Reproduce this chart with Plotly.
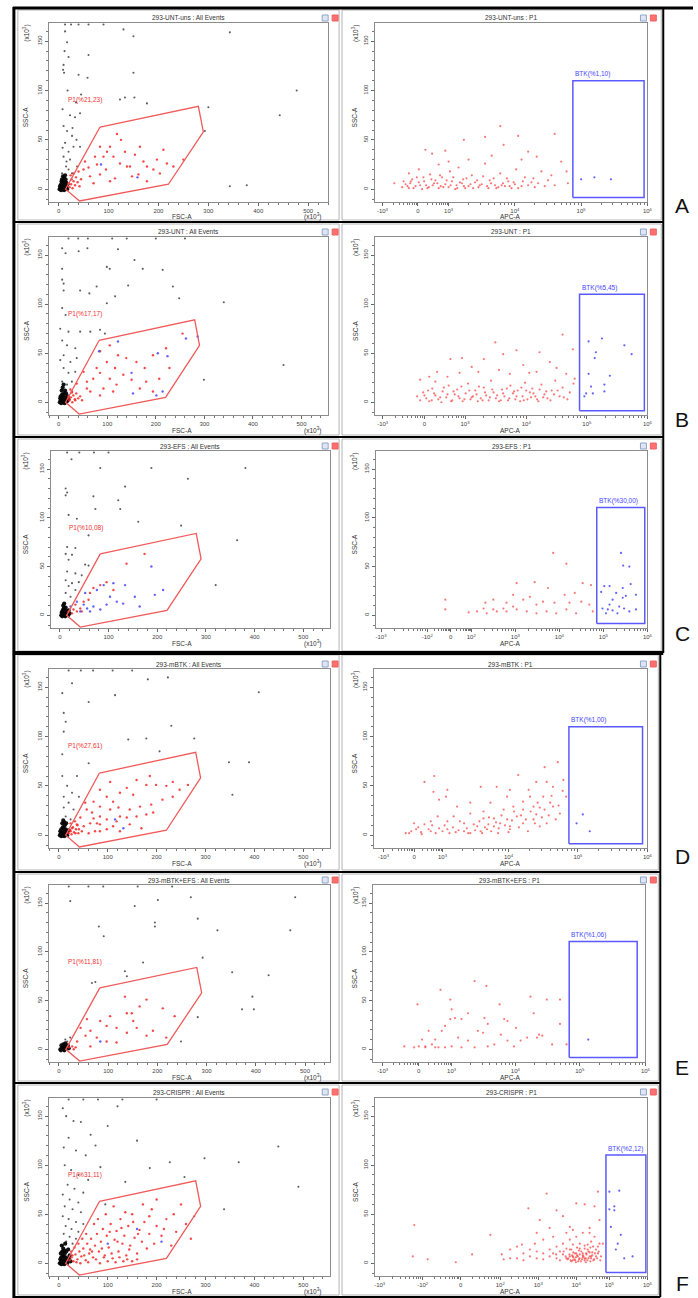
import plotly.graph_objects as go
import math

# ---------------- data ----------------
SAMPLES = ['293-UNT-uns', '293-UNT', '293-EFS', '293-mBTK', '293-mBTK+EFS', '293-CRISPR']
ROW_LETTERS = ['A', 'B', 'C', 'D', 'E', 'F']
P1_PCT = ['P1(%21,23)', 'P1(%17,17)', 'P1(%10,08)', 'P1(%27,61)', 'P1(%11,81)', 'P1(%31,11)']
BTK_PCT = ['BTK(%1,10)', 'BTK(%5,45)', 'BTK(%30,00)', 'BTK(%1,00)', 'BTK(%1,06)', 'BTK(%2,12)']

# P1 polygon gate (FSC-A x10^3, SSC-A x10^3)
P1_GATE_X = [83, 280, 290, 220, 42, 14]
P1_GATE_Y = [63, 84, 58, 5, -12, 0]

# BTK rectangle gates (APC-A logicle display units, SSC-A)
BTK_GATES = [(4.875, 5.95, -8.5, 110), (4.88, 5.95, -8.7, 110), (4.85, 5.94, -8.5, 110.5),
             (4.87, 5.93, -8.7, 110), (4.84, 5.875, -8.5, 110.5), (4.91, 5.96, -9.5, 110.5)]

# APC-A axis ticks (logicle display units) per panel
T6 = ['-10<sup>3</sup>', '0', '10<sup>3</sup>', '10<sup>4</sup>', '10<sup>5</sup>', '10<sup>6</sup>']
T8 = ['-10<sup>3</sup>', '-10<sup>2</sup>', '0', '10<sup>2</sup>', '10<sup>3</sup>', '10<sup>4</sup>',
      '10<sup>5</sup>', '10<sup>6</sup>']
APC_TICK_TEXT = [T6, T6, T8, T6, T6, T8]
APC_TICK_POS = [[2.0, 2.535, 3.0, 4, 5, 6], [1.63, 2.32, 2.99, 4, 5, 6],
                [-0.05, 1.0, 1.53, 2.0, 3.0, 4.0, 5.0, 6.0], [2.2, 2.64, 3.05, 4, 5, 6],
                [2.0, 2.55, 3.05, 4.02, 5, 6], [-1.04, 0.09, 1.09, 2.13, 3.13, 4.13, 5.0, 6]]
APC_RANGE = [[1.885, 6.0], [1.50, 6.0], [-0.17, 6.0], [2.06, 6.0], [1.85, 6.0], [-1.17, 6.0]]
FSC_RANGE = [[-20, 540], [-21, 555], [-19, 555], [-21, 555], [-21, 551], [-21, 555]]
SSC_RANGE = [-13, 168.5]
FSC_TICKS = [0, 100, 200, 300, 400, 500]
SSC_TICKS = [0, 50, 100, 150]

# ---- Row A ----
A_FSC_BLACK = [(13,160),(17,149),(20,134),(10,126),(9,121),(11,118),(40,116),(58,113),(45,96),(8,81),(23,75),(33,73),
 (43,77),(10,64),(17,59),(27,54),(13,47),(30,43),(43,43),(20,38),(10,33),(23,30),(15,23),(7,16),(37,23),(27,16),(13,9),
 (13,167),(130,162),(150,155),(343,159),(150,118),(133,93),(152,93),(177,87),(123,91),(300,83),(477,100),(443,75),
 (293,59),(377,4),(343,3),(60,136),(12,140),(25,167),(40,167),(60,167),(90,167),(18,100),(35,88),(28,62),(36,50),
 (16,28),(20,20),(8,42)]
A_FSC_CORE = [(2,0),(4,1),(6,2),(8,0),(10,3),(12,1),(14,4),(5,5),(8,7),(3,3),(10,6),(12,8),(14,10),(16,2),(18,5),(7,10),
 (9,13),(11,11),(15,7),(5,-1),(11,-1),(17,0),(6,8),(13,14)]
A_FSC_RED = [(22,2),(25,5),(28,1),(30,8),(20,6),(26,10),(33,4),(35,12),(24,14),(38,7),(42,3),(45,10),(30,16),(40,18),
 (50,20),(53,28),(63,13),(70,6),(77,25),(73,33),(83,15),(83,43),(90,33),(97,38),(103,43),(103,8),(110,33),(113,11),
 (117,56),(123,26),(133,38),(137,23),(143,23),(147,13),(153,35),(163,43),(170,28),(177,8),(177,23),(190,20),(197,30),
 (203,16),(217,26),(230,23),(60,22),(95,20),(125,50),(160,15),(210,40),(250,30)]
A_FSC_BLUE = [(85,25),(158,12)]
A_APC_RED = [(2.18,6),(2.43,8),(2.65,40),(2.75,36),(2.95,39),(3.23,50),(3.55,53),(3.78,64),(4.05,54),(3.83,45),(4.6,56),
 (4.2,38),(4.33,33),(4.78,18),(2.3,2),(2.35,5),(2.4,1),(2.45,10),(2.5,3),(2.55,7),(2.6,0),(2.62,12),(2.66,4),(2.7,2),
 (2.72,15),(2.78,6),(2.8,9),(2.85,1),(2.88,3),(2.9,12),(2.95,5),(3.0,2),(3.02,18),(3.05,8),(3.1,0),(3.12,4),(3.15,22),
 (3.2,6),(3.22,10),(3.25,1),(3.3,3),(3.35,14),(3.4,7),(3.45,2),(3.5,5),(3.55,26),(3.6,1),(3.62,9),(3.7,4),(3.75,2),
 (3.78,16),(3.82,6),(3.85,3),(3.9,8),(3.95,1),(4.0,5),(4.02,20),(4.1,3),(4.15,12),(4.25,7),(4.3,2),(4.4,18),(4.5,9),
 (4.6,4),(4.7,28),(4.8,6),(2.55,20),(2.85,25),(3.3,30),(3.65,34),(4.1,30),(2.4,16),(3.0,28),
 (2.32,8),(2.38,3),(2.42,6),(2.47,1),(2.52,12),(2.57,4),(2.63,8),(2.68,1),(2.74,10),(2.76,4),(2.83,6),(2.87,14),(2.92,2),
 (2.97,9),(3.03,4),(3.07,12),(3.13,1),(3.17,7),(3.23,3),(3.27,11),(3.33,5),(3.37,1),(3.43,9),(3.47,4),(3.52,13),(3.58,3),
 (3.64,6),(3.68,11),(3.72,1),(3.8,4),(3.88,11),(3.92,3),(3.98,7),(4.05,1),(4.12,8),(4.2,4),(4.28,11),(4.35,6),(4.45,3),
 (4.55,14)]
A_APC_BLUE = [(5.0,10),(5.2,12),(5.45,10)]

# ---- Row B ----
B_FSC_BLACK = [(7,157),(14,152),(41,154),(59,157),(122,156),(99,138),(105,136),(156,145),(173,136),(214,135),(7,136),
 (7,125),(10,121),(10,114),(44,114),(63,111),(78,118),(143,119),(235,118),(116,108),(99,101),(248,106),(340,102),
 (3,75),(20,72),(44,72),(65,72),(85,74),(95,70),(7,63),(17,58),(34,55),(10,48),(24,41),(37,45),(10,35),(20,30),(34,31),
 (7,21),(17,18),(27,21),(463,38),(299,23),(14,89),(7,96),(3,43),(20,167),(40,167),(60,167),(110,167),(140,167),
 (200,167),(260,167)]
B_FSC_CORE = [(2,0),(4,2),(6,1),(8,3),(10,0),(12,2),(14,5),(4,6),(7,8),(3,4),(9,6),(11,9),(13,12),(16,3),(18,6),(6,12),
 (8,15),(10,18),(15,9),(5,-1),(12,-1),(17,1),(20,3),(7,4)]
B_FSC_RED = [(85,52),(105,58),(122,48),(99,41),(116,35),(85,30),(71,24),(58,21),(139,45),(160,41),(177,35),(194,48),
 (221,55),(228,35),(207,24),(180,21),(150,23),(119,18),(92,14),(65,11),(44,6),(167,14),(194,11),(255,70),(133,28),
 (105,24),(78,35),(51,31),(37,19),(58,14),(27,11),(20,6),(34,2),(48,2),(112,11),(85,7),(22,2),(25,5),(28,0),(30,7),
 (20,4),(27,10),(33,3),(36,9),(40,4),(24,13)]
B_FSC_BLUE = [(286,67),(262,65),(224,47),(204,50),(150,30),(153,9),(201,7),(214,11),(83,52),(122,62)]
B_APC_RED = [(2.25,23),(2.5,21),(2.7,26),(2.75,44),(2.94,45),(3.3,44),(3.49,61),(3.62,49),(3.84,53),(3.95,38),
 (4.22,51),(4.39,41),(4.6,69),(4.77,54),(4.8,24),(4.66,29),(4.17,31),(3.73,29),(3.21,31),(2.53,31),(2.2,6),(2.25,2),
 (2.3,10),(2.35,4),(2.4,1),(2.45,14),(2.5,7),(2.55,3),(2.6,0),(2.62,11),(2.68,5),(2.72,17),(2.78,2),(2.82,8),(2.86,13),
 (2.9,4),(2.95,1),(3.0,9),(3.04,19),(3.08,3),(3.12,6),(3.16,12),(3.2,1),(3.25,4),(3.3,15),(3.34,7),(3.38,2),(3.42,22),
 (3.46,10),(3.5,4),(3.55,1),(3.6,13),(3.64,6),(3.7,2),(3.74,17),(3.78,9),(3.82,3),(3.86,12),(3.9,1),(3.94,6),(3.98,20),
 (4.02,3),(4.06,10),(4.1,14),(4.15,6),(4.2,1),(4.25,18),(4.3,8),(4.35,4),(4.42,12),(4.48,22),(4.55,6),(4.6,15),
 (4.68,3),(4.72,10),(4.78,19),(2.4,26),(2.9,30),(3.1,36),(3.55,33),(4.05,30),(4.5,35),
 (2.32,7),(2.38,12),(2.44,2),(2.48,9),(2.58,5),(2.64,15),(2.7,8),(2.76,1),(2.8,11),(2.88,6),(2.93,16),(2.98,3),
 (3.06,12),(3.1,5),(3.18,8),(3.22,16),(3.28,2),(3.32,10),(3.4,5),(3.44,13),(3.52,7),(3.58,2),(3.62,9),(3.68,14),
 (3.72,4),(3.8,11),(3.84,6),(3.92,15),(3.96,2),(4.0,12),(4.08,5),(4.12,9),(4.18,3),(4.22,13),(4.28,5),(4.33,11),
 (4.4,2),(4.46,8),(4.52,12),(4.62,5)]
B_APC_BLUE = [(5.03,62),(5.25,65),(5.15,51),(5.13,45),(5.62,58),(5.74,49),(5.03,29),(5.38,27),(5.07,16),(5.29,18),
 (4.99,9),(4.96,6),(5.1,9),(5.29,11)]

# ---- Row C ----
C_FSC_BLACK = [(24,160),(83,151),(188,151),(381,151),(263,140),(134,132),(12,130),(15,126),(12,123),(69,122),(120,118),
 (124,109),(73,109),(18,103),(35,99),(59,82),(249,92),(161,96),(364,77),(15,70),(32,69),(12,63),(25,62),(18,57),
 (52,52),(59,51),(15,45),(32,43),(45,41),(12,36),(25,33),(39,34),(18,30),(32,26),(12,23),(22,19),(320,31),(15,167),
 (40,167),(70,167),(100,167)]
C_FSC_CORE = [(3,0),(5,2),(7,1),(9,3),(11,0),(13,2),(15,4),(6,5),(8,7),(4,3),(10,6),(12,8),(14,1),(16,3),(18,5),(7,10),
 (9,12),(5,-1),(11,-1),(17,0),(20,2)]
C_FSC_RED = [(174,63),(137,53),(96,34),(83,31),(62,23),(49,14),(42,7),(35,4),(28,6),(25,2),(18,4),(45,4),(69,28),(59,16),
 (110,26),(32,11)]
C_FSC_BLUE = [(188,50),(134,31),(110,33),(90,31),(76,26),(212,26),(195,21),(154,19),(117,14),(96,11),(69,9),(56,7),
 (42,4),(62,4),(83,6),(35,14),(52,23),(103,19),(130,12),(164,9),(49,11),(22,9)]
C_APC_RED = [(1.41,16),(1.41,6),(1.94,3),(2.32,13),(2.58,4),(2.73,7),(2.95,9),(3.03,33),(3.44,34),(2.95,21),(3.18,16),
 (3.48,11),(3.74,28),(3.86,64),(4.16,53),(4.12,21),(4.35,23),(4.53,33),(4.72,31),(4.68,11),(4.5,14),(4.76,4),(4.38,2),
 (4.16,6),(3.93,2),(3.71,4),(3.48,2),(3.26,4),(3.03,6),(2.8,4),(2.5,6),(2.35,2),(2.13,4),(3.33,19),(3.63,14),(3.89,13),
 (4.23,13),(2.5,16),(2.8,13),(2.28,7)]
C_APC_BLUE = [(5.4,64),(5.45,51),(5.59,50),(5.02,30),(5.14,30),(5.44,28),(5.62,32),(5.29,23),(5.51,20),(5.74,21),
 (5.21,16),(5.44,18),(4.98,7),(5.1,6),(5.21,5),(5.36,9),(5.47,7),(5.74,6),(5.14,11),(4.95,24),(5.32,2),(5.59,4),(5.06,2)]

# ---- Row D ----
D_FSC_BLACK = [(27,154),(7,144),(61,135),(115,142),(182,158),(223,160),(409,145),(10,124),(14,115),(10,105),(230,111),
 (142,97),(179,98),(277,98),(206,85),(348,74),(389,74),(61,73),(7,60),(37,60),(17,50),(27,43),(10,39),(41,39),(20,33),
 (10,28),(30,26),(14,19),(24,16),(355,41),(7,82),(20,167),(45,167),(70,167),(110,167),(150,167)]
D_FSC_CORE = [(2,0),(4,1),(6,3),(8,0),(10,2),(12,4),(14,1),(5,6),(8,8),(3,4),(10,7),(12,10),(14,6),(16,2),(18,4),(7,12),
 (9,15),(11,13),(5,-1),(11,-1),(17,0),(20,5),(15,12)]
D_FSC_RED = [(84,46),(98,39),(111,34),(125,43),(139,48),(159,56),(179,51),(199,51),(220,50),(247,46),(264,51),(233,39),
 (212,36),(189,31),(166,29),(145,26),(122,28),(105,26),(84,29),(71,34),(68,23),(84,19),(98,16),(118,14),(139,18),
 (159,19),(179,21),(193,23),(169,7),(145,11),(111,9),(84,11),(64,12),(51,9),(44,18),(57,26),(78,12),(98,6),(125,4),
 (233,54),(186,60),(105,54),(152,41),(125,19),(71,17),(54,33),(41,6),(34,2),(24,4),(27,7),(37,11),(47,4),(61,2),(74,4),
 (84,4),(20,2),(23,5),(26,1),(29,8),(31,3),(35,6),(38,10),(24,12),(33,14),(40,2)]
D_FSC_BLUE = [(115,16),(132,7)]
D_APC_RED = [(2.52,2),(2.57,2),(2.67,6),(2.79,11),(2.79,54),(2.93,60),(2.92,44),(3.0,36),(3.12,46),(3.1,39),(3.6,49),
 (3.83,49),(4.02,46),(4.14,61),(4.29,46),(4.52,69),(4.71,74),(4.64,49),(4.83,39),(4.79,56),(4.6,33),(4.45,28),(4.31,39),
 (4.21,26),(4.12,19),(3.98,16),(3.88,12),(3.79,9),(3.69,6),(3.6,4),(3.45,2),(3.36,4),(3.24,3),(3.12,6),(3.0,7),(2.88,4),
 (2.74,3),(2.64,12),(2.98,19),(3.21,19),(3.45,22),(3.64,24),(3.79,17),(3.93,26),(4.07,29),(4.21,34),(4.36,29),(4.4,21),
 (4.5,39),(4.64,29),(4.74,22),(4.21,12),(4.02,9),(3.86,7),(3.71,11),(3.55,9),(4.02,6),(4.36,16),(4.55,12),(4.45,9),
 (3.36,12),(3.12,14),(2.88,14),(3.64,17),(3.74,33),(3.45,33),(3.26,29),(3.98,39),(4.4,54),(4.55,54),
 (2.6,4),(2.7,8),(2.75,1),(2.85,6),(2.9,10),(2.95,2),(3.05,4),(3.08,10),(3.15,2),(3.2,8),(3.28,5),(3.3,14),(3.4,7),
 (3.42,2),(3.5,11),(3.52,5),(3.58,14),(3.62,2),(3.66,8),(3.72,18),(3.75,4),(3.82,13),(3.85,2),(3.9,20),(3.95,10),
 (4.0,3),(4.05,15),(4.08,24),(4.15,8),(4.18,20),(4.25,16),(4.28,4),(4.32,24),(4.38,12),(4.42,33),(4.48,18),(4.52,26),
 (4.58,20),(4.62,40),(4.68,16),(4.72,30),(4.78,45)]
D_APC_BLUE = [(5.07,21),(4.98,12),(5.17,4)]

# ---- Row E ----
E_FSC_BLACK = [(23,152),(201,153),(268,156),(154,147),(282,134),(480,156),(81,126),(91,116),(195,130),(195,126),
 (322,122),(470,122),(292,94),(171,89),(352,79),(426,76),(134,80),(138,75),(67,68),(74,69),(393,54),(372,41),(396,41),
 (282,33),(248,8),(13,10),(17,8),(10,5),(23,12),(20,167),(60,167),(90,167),(160,167),(230,167)]
E_FSC_CORE = [(3,0),(6,1),(8,2),(10,0),(12,3),(14,1),(5,4),(9,5),(13,6),(16,2),(18,4),(4,-1),(11,-1),(20,1)]
E_FSC_RED = [(134,54),(178,51),(138,37),(148,37),(211,42),(235,34),(84,29),(97,24),(117,22),(158,22),(178,14),(191,19),
 (138,17),(64,19),(54,14),(77,12),(97,8),(117,7),(37,8),(27,3),(34,2),(57,31),(44,22),(151,29),(218,12),(164,44),
 (104,34),(64,3),(30,0),(20,2)]
E_FSC_BLUE = [(84,8)]
E_APC_RED = [(2.33,3),(2.53,46),(2.6,10),(2.65,2),(2.75,5),(2.85,2),(2.88,61),(2.95,2),(3.03,51),(3.05,41),(3.03,31),
 (3.1,32),(3.2,31),(3.3,37),(3.4,2),(3.4,70),(3.58,65),(3.55,32),(3.53,17),(3.6,26),(3.78,46),(3.85,31),(3.9,9),
 (4.03,22),(4.1,9),(4.25,54),(4.3,37),(4.38,15),(4.5,51),(4.7,51),(4.7,26),(4.8,5),(4.58,5),(4.2,12),(4.0,3),(3.7,5),
 (3.3,9),(3.15,12),(2.8,10),(2.55,3),(2.7,19),(2.9,19),(2.95,24),(3.45,19),(3.8,15),(3.9,29),(4.35,12),(4.43,14),
 (2.65,3),(2.48,2),(2.8,2),(3.05,3),(3.2,2),(3.6,3)]
E_APC_BLUE = [(5.13,10)]

# ---- Row F ----
F_FSC_BLACK = [(8,158),(15,150),(30,145),(45,144),(65,131),(20,128),(10,118),(35,115),(55,110),(85,98),(136,83),(186,97),
 (227,103),(298,107),(368,103),(449,119),(490,78),(338,55),(277,48),(257,88),(12,100),(25,95),(40,90),(60,85),(18,80),
 (32,76),(50,72),(8,70),(22,65),(40,62),(12,58),(28,55),(45,52),(8,48),(20,45),(35,42),(50,40),(14,38),(26,35),(40,32),
 (10,30),(22,27),(35,25),(15,22),(28,20),(8,18),(20,15),(100,140),(160,125),(120,160),(20,167),(50,167),(80,167),
 (130,167),(200,167),(75,120),(95,60)]
F_FSC_CORE = [(2,0),(4,1),(6,3),(8,0),(10,2),(12,4),(14,1),(5,6),(8,8),(3,4),(10,7),(12,10),(14,6),(16,2),(18,4),(7,12),
 (9,15),(11,13),(5,-1),(11,-1),(17,0),(20,5),(15,12),(22,8),(6,18),(13,20),(19,14),(4,10),(24,2)]
F_FSC_RED = [(22,3),(26,6),(30,2),(34,9),(38,4),(42,12),(46,7),(50,15),(55,3),(58,20),(62,10),(66,25),(70,6),(74,18),
 (78,30),(82,12),(86,22),(90,35),(94,8),(98,28),(102,16),(106,40),(110,5),(114,24),(118,33),(122,12),(126,45),(130,20),
 (134,28),(138,8),(142,38),(146,18),(150,50),(155,26),(160,10),(165,34),(170,22),(175,42),(180,15),(185,30),(190,55),
 (195,20),(200,38),(210,28),(220,45),(230,18),(240,32),(250,60),(260,40),(270,25),(25,12),(32,16),(40,20),(48,25),
 (56,30),(64,14),(72,40),(80,45),(88,15),(96,50),(104,32),(112,58),(120,22),(128,36),(136,52),(144,14),(152,42),
 (162,30),(172,60),(185,48),(200,65),(215,35),(235,50),(28,8),(36,1),(44,0),(52,8),(60,1),(68,12),(76,4),(84,0),(92,6),
 (100,2),(108,10),(116,1),(124,6),(132,2),(140,4),(150,2),(160,4)]
F_FSC_BLUE = [(100,20),(160,35),(210,22)]
F_APC_RED = [(-0.13,39),(-0.17,7),(0.22,4),(0.96,1),(1.39,9),(1.87,29),(2.17,9),(2.39,14),(2.57,5),(2.7,19),(2.87,56),
 (3.09,31),(3.17,44),(3.35,71),(3.43,36),(3.61,54),(3.78,48),(3.96,37),(4.13,61),(4.35,60),(4.48,31),(4.61,58),(4.7,73),
 (4.74,44),(4.83,20),(4.22,20),(3.96,14),(3.78,9),(3.61,5),(3.43,7),(3.26,4),(3.09,5),(2.91,7),(2.74,3),(3.87,5),
 (4.04,7),(4.13,10),(4.26,12),(4.35,15),(4.43,19),(4.52,22),(4.57,17),(4.39,10),(4.48,7),(4.22,5),(4.04,3),(3.96,7),
 (4.3,8),(4.09,10),(4.17,7),(4.43,14),(4.65,14),(4.74,20),(4.61,27),(4.48,36),(4.3,31),(4.13,27),(3.96,24),(3.78,20),
 (3.61,17),(3.43,14),(3.26,10),(3.09,12),(2.91,14),(2.74,10),(2.39,5),(2.22,4),(3.52,10),(3.7,12),(3.87,15),(4.04,19),
 (4.22,15),(4.35,5),(4.52,5),(4.7,10),(4.78,7),(3.87,31),(4.04,34),(3.52,27),(3.26,24),(3.04,20),(2.57,17),(3.9,4),
 (4.0,2),(4.05,6),(4.1,3),(4.15,8),(4.2,4),(4.25,2),(4.3,6),(4.35,3),(4.4,9),(4.45,5),(4.5,2),(4.55,8),(4.6,4),(3.95,9),
 (4.05,11),(4.2,13),(4.3,10),(4.45,12),(4.55,11),(3.85,7),(4.65,7),(4.12,1),(4.38,1),
 (3.92,5),(3.98,3),(4.02,8),(4.08,4),(4.12,6),(4.18,2),(4.22,9),(4.28,4),(4.32,7),(4.38,5),(4.42,3),(4.48,11),(4.52,7),
 (4.58,3),(4.62,10),(4.68,5),(4.72,12),(4.76,3),(4.0,14),(4.15,16),(4.35,18),(4.5,16),(4.7,17),(3.8,12),(3.7,3),(3.6,9)]
F_APC_BLUE = [(5.0,73),(5.26,74),(5.13,58),(5.0,55),(5.13,54),(5.3,29),(5.22,20),(5.39,5),(5.61,7),(5.17,14),(5.04,37)]

FSC_BLACK = [A_FSC_BLACK, B_FSC_BLACK, C_FSC_BLACK, D_FSC_BLACK, E_FSC_BLACK, F_FSC_BLACK]
FSC_CORE = [A_FSC_CORE, B_FSC_CORE, C_FSC_CORE, D_FSC_CORE, E_FSC_CORE, F_FSC_CORE]
FSC_RED = [A_FSC_RED, B_FSC_RED, C_FSC_RED, D_FSC_RED, E_FSC_RED, F_FSC_RED]
FSC_BLUE = [A_FSC_BLUE, B_FSC_BLUE, C_FSC_BLUE, D_FSC_BLUE, E_FSC_BLUE, F_FSC_BLUE]
APC_RED = [A_APC_RED, B_APC_RED, C_APC_RED, D_APC_RED, E_APC_RED, F_APC_RED]
APC_BLUE = [A_APC_BLUE, B_APC_BLUE, C_APC_BLUE, D_APC_BLUE, E_APC_BLUE, F_APC_BLUE]

# ---------------- layout geometry (pixels) ----------------
W, H = 698, 1298
FONT = 'Liberation Sans, Arial, sans-serif'
LEFT_DOM_X = [(48, 330), (48, 330), (50, 332), (48, 332), (48, 332), (48, 332)]
RIGHT_DOM_X = [(377, 652), (377, 652), (378, 652), (376, 652), (375, 650), (377, 652)]
ROW_DOM_Y = [(23, 202), (237, 415), (451, 628), (669, 848), (885, 1062), (1098, 1276)]
TITLE_Y = [18, 232, 446, 664, 880, 1092]
SEPS = [8, 222, 437, 653, 872, 1083, 1297]
LETTER_Y = [206, 419, 634, 856, 1067, 1283]
RIGHT_EDGE = [668, 668, 668, 665, 665, 665]


def fx(x):
    return x / W


def fy(y):
    return 1 - y / H


def unzip(pts):
    return [p[0] for p in pts], [p[1] for p in pts]


def minor_log(pos):
    out = []
    for a, b in zip(pos[:-1], pos[1:]):
        for m in range(2, 10):
            out.append(a + (b - a) * math.log10(m))
    return out


fig = go.Figure()
axes = {}
shapes = []
ann = []

AX = dict(showline=True, mirror=True, linecolor='#8c8c8c', linewidth=1, ticks='outside', ticklen=3,
          tickwidth=1, tickcolor='#666', showgrid=False, zeroline=False,
          tickfont=dict(size=6, color='#444', family=FONT))

RED = 'rgba(245,40,40,0.85)'
RED_L = 'rgba(250,60,60,0.7)'
BLACK = 'rgba(40,40,40,0.75)'
CORE = 'rgba(5,5,5,0.95)'
BLUE = 'rgba(70,70,255,0.85)'


def add_pts(pts, color, size, xa, ya):
    if not pts:
        return
    x, y = unzip(pts)
    fig.add_trace(go.Scatter(x=x, y=y, mode='markers', xaxis=xa, yaxis=ya, hoverinfo='skip',
                             marker=dict(color=color, size=size, line=dict(width=0))))


def note(x, y, text, font, angle=0):
    ann.append(dict(x=fx(x), y=fy(y), xref='paper', yref='paper', showarrow=False, text=text,
                    textangle=angle, xanchor='center', yanchor='middle', font=font))


for i in range(6):
    li, ri = 2 * i + 1, 2 * i + 2
    y0p, y1p = ROW_DOM_Y[i]
    ydom = [fy(y1p), fy(y0p)]
    for k, dx in ((li, LEFT_DOM_X[i]), (ri, RIGHT_DOM_X[i])):
        yax = dict(AX, domain=ydom, anchor=('x' if k == 1 else 'x%d' % k), range=SSC_RANGE,
                   tickmode='array', tickvals=SSC_TICKS, ticktext=[str(v) for v in SSC_TICKS], tickangle=-90,
                   minor=dict(tickmode='linear', tick0=0, dtick=10, ticks='outside', ticklen=2, tickcolor='#777'))
        axes['yaxis' if k == 1 else 'yaxis%d' % k] = yax
    axes['xaxis' if li == 1 else 'xaxis%d' % li] = dict(
        AX, domain=[fx(LEFT_DOM_X[i][0]), fx(LEFT_DOM_X[i][1])], anchor=('y' if li == 1 else 'y%d' % li),
        range=FSC_RANGE[i], tickmode='array', tickvals=FSC_TICKS, ticktext=[str(v) for v in FSC_TICKS],
        minor=dict(tickmode='linear', tick0=0, dtick=20, ticks='outside', ticklen=2, tickcolor='#777'))
    axes['xaxis%d' % ri] = dict(
        AX, domain=[fx(RIGHT_DOM_X[i][0]), fx(RIGHT_DOM_X[i][1])], anchor='y%d' % ri,
        range=APC_RANGE[i], tickmode='array', tickvals=APC_TICK_POS[i], ticktext=APC_TICK_TEXT[i],
        minor=dict(tickmode='array', tickvals=minor_log(APC_TICK_POS[i]), ticks='outside', ticklen=2,
                   tickcolor='#777'))

    xl, yl = ('x' if li == 1 else 'x%d' % li), ('y' if li == 1 else 'y%d' % li)
    xr, yr = 'x%d' % ri, 'y%d' % ri

    # left: FSC vs SSC
    add_pts(FSC_BLACK[i], BLACK, 2.1, xl, yl)
    add_pts(FSC_CORE[i], CORE, 4.2, xl, yl)
    add_pts(FSC_RED[i], RED, 2.4, xl, yl)
    add_pts(FSC_BLUE[i], BLUE, 2.4, xl, yl)
    fig.add_trace(go.Scatter(x=P1_GATE_X + [P1_GATE_X[0]], y=P1_GATE_Y + [P1_GATE_Y[0]], mode='lines',
                             xaxis=xl, yaxis=yl, hoverinfo='skip',
                             line=dict(color='rgb(240,90,90)', width=1.3)))
    ann.append(dict(x=14, y=90, xref=xl, yref=yl, text=P1_PCT[i], showarrow=False, xanchor='left',
                    yanchor='middle', font=dict(size=6.5, color='rgb(240,50,50)', family=FONT)))

    # right: APC vs SSC
    add_pts(APC_RED[i], RED_L, 2.2, xr, yr)
    add_pts(APC_BLUE[i], BLUE, 2.2, xr, yr)
    gx0, gx1, gy0, gy1 = BTK_GATES[i]
    fig.add_trace(go.Scatter(x=[gx0, gx1, gx1, gx0, gx0], y=[gy0, gy0, gy1, gy1, gy0], mode='lines',
                             xaxis=xr, yaxis=yr, hoverinfo='skip',
                             line=dict(color='rgb(90,90,255)', width=1.5)))
    ann.append(dict(x=gx0, y=117, xref=xr, yref=yr, text=BTK_PCT[i], showarrow=False, xanchor='left',
                    yanchor='middle', font=dict(size=6.5, color='rgb(70,70,255)', family=FONT)))

    # titles and axis labels
    lcx = (LEFT_DOM_X[i][0] + LEFT_DOM_X[i][1]) / 2
    rcx = (RIGHT_DOM_X[i][0] + RIGHT_DOM_X[i][1]) / 2
    small = dict(size=6.5, color='#333', family=FONT)
    note(lcx, TITLE_Y[i], SAMPLES[i] + ' : All Events', small)
    note(rcx, TITLE_Y[i], SAMPLES[i] + ' : P1', small)
    for ax_x in (25, 357):
        note(ax_x, (y0p + y1p) / 2 + 4, 'SSC-A', small, -90)
        note(ax_x, y0p + 10, '(x10<sup>3</sup>)', small, -90)
    note(183, y1p + 15, 'FSC-A', small)
    note(314, y1p + 15, '(x10<sup>3</sup>)', small)
    note(514, y1p + 15, 'APC-A', small)
    note(687, LETTER_Y[i], ROW_LETTERS[i], dict(size=21, color='#111', family=FONT))

    # panel window frames
    top, bot = SEPS[i] + 2, SEPS[i + 1] - 2
    for (a, b) in ((17, 341), (344, RIGHT_EDGE[i] - 2)):
        shapes.append(dict(type='rect', xref='paper', yref='paper', x0=fx(a), x1=fx(b), y0=fy(bot), y1=fy(top),
                           line=dict(color='#b5b5b5', width=1)))
    # window icons
    for (a, c) in ((324, '#8fa3c8'), (334, '#f06060'), (645, '#8fa3c8'), (655, '#f06060')):
        shapes.append(dict(type='rect', xref='paper', yref='paper', x0=fx(a), x1=fx(a + 6),
                           y0=fy(TITLE_Y[i] + 3), y1=fy(TITLE_Y[i] - 3), line=dict(color=c, width=1),
                           fillcolor='#dfe6f2' if c == '#8fa3c8' else '#ff7070'))


# thick black frame lines
def line(x0, y0, x1, y1, w):
    shapes.append(dict(type='line', xref='paper', yref='paper', x0=fx(x0), y0=fy(y0), x1=fx(x1), y1=fy(y1),
                       line=dict(color='black', width=w)))


line(12, 8, 698, 8, 3)
line(13, 7, 13, 1298, 3)
line(668, 8, 668, 653, 2)
line(665, 653, 665, 1297, 2)
line(13, 222, 668, 222, 2)
line(13, 437, 668, 437, 2)
line(12, 653, 668, 653, 4)
line(13, 872, 665, 872, 2)
line(13, 1083, 665, 1083, 2)
line(13, 1297, 665, 1297, 2)

fig.update_layout(width=W, height=H, margin=dict(l=0, r=0, t=0, b=0), showlegend=False,
                  plot_bgcolor='white', paper_bgcolor='white', shapes=shapes, annotations=ann, **axes)
fig.write_html('out.html')
